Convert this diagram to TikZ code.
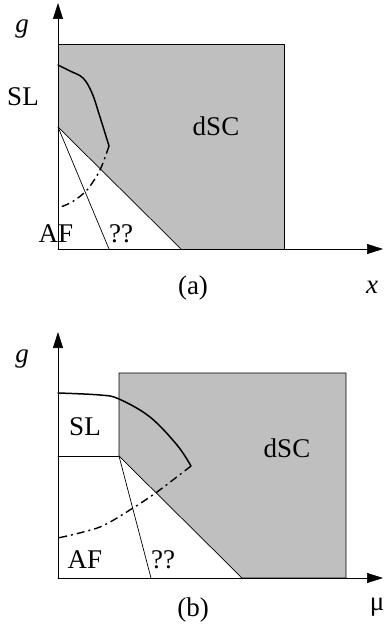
\documentclass[tikz,border=0pt]{standalone}
\usepackage{fontspec}
\setmainfont{Liberation Serif}
\usetikzlibrary{arrows.meta}
\begin{document}
\begin{tikzpicture}[x=1pt,y=-1pt,line join=round,line cap=round,>={Triangle[length=16pt,width=10pt]}]
			\tikzset{every node/.style={font=\fontsize{27}{30}\selectfont,anchor=base,inner sep=0pt},
				phase/.style={fill=black!25,draw,line width=0.7pt},
				bound/.style={line width=0.7pt},
				crossover/.style={line width=1.5pt},
				dashdot/.style={line width=1.4pt,line cap=butt,dash pattern=on 8pt off 4pt on 2pt off 4pt}}
			\useasboundingbox (0,0) rectangle (384,639);
			% panel (a)
			\draw[phase] (58,44) rectangle (284,249);
			\fill[white] (58,127)--(58,249)--(181,249)--cycle;
			\draw[bound] (58,127)--(181,249);
			\draw[bound] (58,127)--(109,249);
			\draw[crossover] plot[smooth,tension=0.6] coordinates {(58,65) (70,71) (83,78) (92,93) (100,117) (109,146)};
			\draw[dashdot] plot[smooth] coordinates {(109,146) (100,170) (87,190) (72,202) (58,208)};
			\draw[->,bound] (58,249)--(383,249);
			\draw[->,bound] (58,249)--(58,3);
			\node (ga) at (22,33) {\itshape g};
			\node (xa) at (372,293) {\itshape x};
			\node (sla) at (23,106) {SL};
			\node (dsca) at (216,136) {dSC};
			\node (afa) at (56,242) {AF};
			\node (qa) at (121,242) {??};
			\node (pa) at (193,294) {(a)};
			% panel (b)
			\draw[phase] (119,373)--(346,373)--(346,578)--(242,578)--(119,456)--cycle;
			\draw[bound] (58,456)--(119,456);
			\draw[bound] (119,456)--(151,578);
			\draw[crossover] plot[smooth,tension=0.6] coordinates {(58,393) (100,395) (119,399) (150,417) (177,445) (191,466)};
			\draw[dashdot] plot[smooth] coordinates {(191,466) (157,492) (133,508) (100,527) (58,538)};
			\draw[->,bound] (58,578)--(383,578);
			\draw[->,bound] (58,578)--(58,332);
			\node (gb) at (22,362) {\itshape g};
			\node (mub) at (377,610) {μ};
			\node (slb) at (85,435) {SL};
			\node (dscb) at (287,457) {dSC};
			\node (afb) at (85,568) {AF};
			\node (qb) at (163,568) {??};
			\node (pb) at (193,616) {(b)};
		\end{tikzpicture}
\end{document}
